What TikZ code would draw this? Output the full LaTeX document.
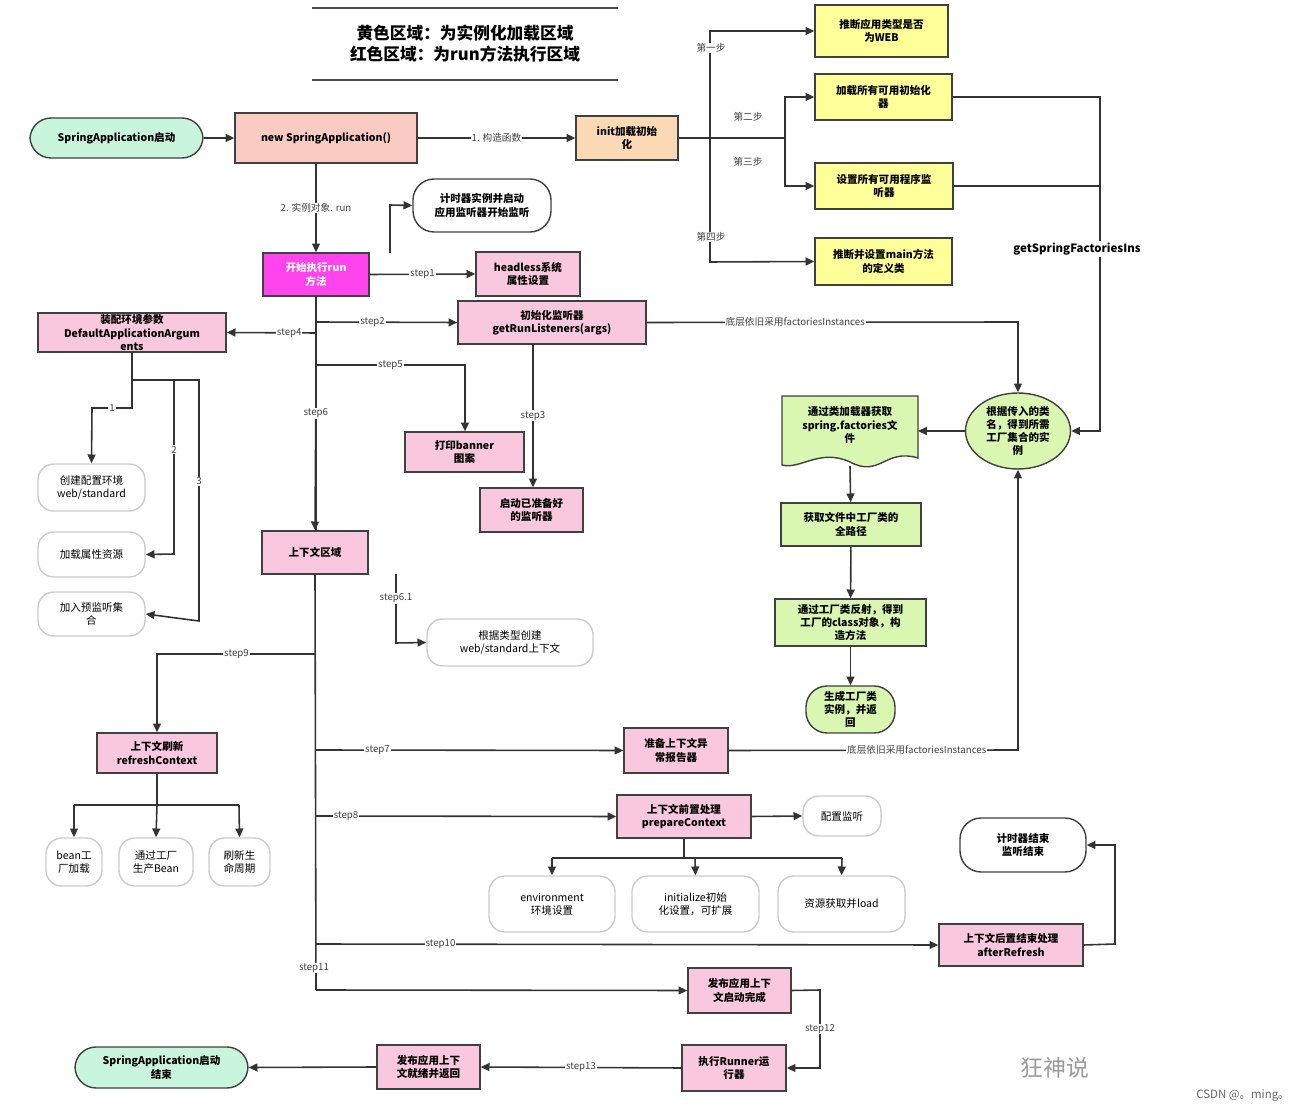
\documentclass[tikz,border=0pt]{standalone}
\usepackage{fontspec}
\setmainfont{Noto Sans CJK SC}
\usetikzlibrary{shapes.geometric,arrows.meta}
\definecolor{pk}{HTML}{F9C8DF}
\definecolor{sal}{HTML}{F9CBC3}
\definecolor{pe}{HTML}{FBD9B5}
\definecolor{yl}{HTML}{FFFF99}
\definecolor{mg}{HTML}{FF44EE}
\definecolor{gr}{HTML}{D9F7B0}
\definecolor{mint}{HTML}{C8F5DC}
\tikzset{
 base/.style={draw=black!75,line width=0.8pt,align=center,font=\fontsize{6}{7.5}\selectfont\bfseries,inner sep=1pt},
 pink/.style={base,fill=pk},
 yel/.style={base,fill=yl},
 grn/.style={base,fill=gr},
 rnd/.style={base,draw=black!20,fill=white,rounded corners=9pt,font=\fontsize{6}{7.5}\selectfont},
 rndb/.style={base,fill=white,rounded corners=12pt},
 arr/.style={draw=black!80,line width=0.9pt,-{Triangle[length=5pt,width=4.5pt]}},
 ln/.style={draw=black!80,line width=0.9pt},
 lb/.style={fill=white,inner sep=0.5pt,font=\fontsize{5.5}{6}\selectfont,text=black!75},
}
\newcommand\bx[7][]{\node[#2,#1,minimum width={(#5-#3)*0.02cm},minimum height={(#6-#4)*0.02cm}] (#7) at ({(#3+#5)/2},{(#4+#6)/2})}
\begin{document}
\begin{tikzpicture}[x=0.02cm,y=-0.02cm]
\useasboundingbox (0,0) rectangle (1313,1114);
% title
\draw[black!70,line width=0.8pt] (312,8)--(618,8) (312,80)--(618,80);
\node[font=\fontsize{9.5}{12}\selectfont\bfseries,align=center] (title) at (465,44) {黄色区域：为实例化加载区域\\红色区域：为run方法执行区域};
% nodes
\bx[fill=mint,rounded corners=12pt]{base}{30}{118}{203}{158}{sa}{SpringApplication启动};
\bx[fill=sal]{base}{235}{113}{417}{163}{nsa}{new SpringApplication()};
\bx[fill=pe]{base}{576}{116}{678}{160}{init}{init加载初始\\化};
\bx{yel}{815}{5}{948}{57}{y1}{推断应用类型是否\\为WEB};
\bx{yel}{815}{74}{952}{120}{y2}{加载所有可用初始化\\器};
\bx{yel}{815}{163}{953}{209}{y3}{设置所有可用程序监\\听器};
\bx{yel}{815}{238}{952}{285}{y4}{推断并设置main方法\\的定义类};
\bx{rndb}{413}{179}{551}{232}{timer}{计时器实例并启动\\应用监听器开始监听};
\bx[fill=mg,text=white]{base}{263}{253}{369}{296}{run}{开始执行run\\方法};
\bx{pink}{476}{252}{580}{296}{head}{headless系统\\属性设置};
\bx{pink}{458}{301}{646}{344}{grl}{初始化监听器\\getRunListeners(args)};
\bx{pink}{38}{313}{226}{352}{dfa}{装配环境参数\\DefaultApplicationArgum\\ents};
\bx{pink}{405}{432}{524}{472}{ban}{打印banner\\图案};
\bx{pink}{480}{488}{583}{532}{lis}{启动已准备好\\的监听器};
\bx{rnd}{38}{464}{145}{511}{c1}{创建配置环境\\web/standard};
\bx{rnd}{38}{532}{145}{577}{c2}{加载属性资源};
\bx{rnd}{38}{592}{145}{636}{c3}{加入预监听集\\合};
\bx{pink}{262}{531}{368}{574}{ctx}{上下文区域};
\bx{rnd}{427}{619}{593}{666}{cw}{根据类型创建\\web/standard上下文};
\bx{pink}{97}{733}{217}{773}{ref}{上下文刷新\\refreshContext};
\bx{rnd}{46}{838}{102}{886}{r1}{bean工\\厂加载};
\bx{rnd}{119}{838}{193}{886}{r2}{通过工厂\\生产Bean};
\bx{rnd}{209}{838}{270}{886}{r3}{刷新生\\命周期};
\bx{pink}{624}{728}{728}{773}{exr}{准备上下文异\\常报告器};
\bx{pink}{617}{795}{751}{838}{pre}{上下文前置处理\\prepareContext};
\bx{rnd}{803}{796}{881}{836}{pl}{配置监听};
\bx{rnd}{489}{876}{615}{932}{p1}{environment\\环境设置};
\bx{rnd}{632}{876}{759}{932}{p2}{initialize初始\\化设置，可扩展};
\bx{rnd}{778}{876}{905}{932}{p3}{资源获取并load};
\bx{rndb}{960}{818}{1086}{872}{tend}{计时器结束\\监听结束};
\bx{pink}{939}{924}{1083}{966}{aft}{上下文后置结束处理\\afterRefresh};
\bx{pink}{688}{968}{791}{1013}{pub}{发布应用上下\\文启动完成};
\bx{pink}{682}{1045}{786}{1091}{runr}{执行Runner运\\行器};
\bx{pink}{377}{1045}{480}{1089}{rdy}{发布应用上下\\文就绪并返回};
\bx[fill=mint,rounded corners=12pt]{base}{75}{1047}{248}{1088}{sae}{SpringApplication启动\\结束};
\node[base,fill=gr,ellipse,minimum width=2.1cm,minimum height=1.52cm] (ell) at (1018,431) {根据传入的类\\名，得到所需\\工厂集合的实\\例};
\draw[base,fill=gr] (782,396)--(918,396)--(918,458) .. controls (885,448) and (880,478) .. (850,462) .. controls (820,448) and (800,470) .. (782,465)--cycle;
\node[align=center,font=\fontsize{6}{7.5}\selectfont\bfseries] (doc) at (850,425) {通过类加载器获取\\spring.factories文\\件};
\coordinate (docb) at (850,466);
\coordinate (docr) at (918,431);
\bx{grn}{781}{503}{921}{546}{g2}{获取文件中工厂类的\\全路径};
\bx{grn}{775}{599}{926}{646}{g3}{通过工厂类反射，得到\\工厂的class对象，构\\造方法};
\bx[rounded corners=12pt]{grn}{806}{686}{895}{733}{g4}{生成工厂类\\实例，并返\\回};
% edges top
\draw[arr] (sa)--(nsa);
\draw[arr] (nsa)--node[lb]{1. 构造函数}(init);
\draw[ln] (init.east)--(785,138);
\draw[arr] (710,138)--(710,31)--(y1.west);
\node[lb] at (711,48){第一步};
\draw[arr] (710,138)--(710,262)--(y4.west);
\node[lb] at (711,237){第四步};
\draw[arr] (785,138)--(785,97)--(y2.west);
\draw[arr] (785,138)--(785,186)--(y3.west);
\node[lb] at (748,117){第二步};
\node[lb] at (748,162){第三步};
\draw[arr] (y2.east)--(1100,97)--(1100,431)--(ell.east);
\draw[ln] (y3.east)--(1100,186);
\node[font=\fontsize{6.5}{8}\selectfont\bfseries,fill=white,inner sep=1pt] at (1077,249){getSpringFactoriesIns};
\draw[arr] (grl.east)--node[lb,pos=0.4]{底层依旧采用factoriesInstances}(1018,322)--(ell.north);
\draw[arr] (ell.west)--(docr);
\draw[arr] (docb)--(g2);
\draw[arr] (g2)--(g3);
\draw[arr] (g3)--(g4);
\draw[arr] (exr.east)--node[lb,pos=0.65]{底层依旧采用factoriesInstances}(1018,750)--(ell.south);
% run area
\draw[arr] (nsa.south-|316,0)--node[lb,pos=0.5]{2. 实例对象. run}(run.north-|316,0);
\draw[arr] (390,253)--(390,205)--(timer.west);
\draw[arr] (run.east)--node[lb,pos=0.5]{step1}(head.west);
\draw[ln] (run.south)--(316,531);
\draw[arr] (316,322)--node[lb,pos=0.4]{step2}(grl.west);
\draw[arr] (316,333)--node[lb,pos=0.3]{step4}(dfa.east);
\draw[arr] (316,365)--node[lb,pos=0.5]{step5}(465,365)--(ban.north-|465,0);
\draw[arr] (316,380)--node[lb,pos=0.22]{step6}(ctx.north);
\draw[arr] (533,344)--node[lb,pos=0.5]{step3}(lis.north-|533,0);
% dfa children
\draw[ln] (dfa.south-|132,0)--(132,380);
\draw[arr] (132,380)--(132,408)--node[lb]{1}(92,408)--(c1.north);
\draw[arr] (132,380)--(174,380)--node[lb,pos=0.4]{2}(174,554)--(c2.east);
\draw[arr] (132,380)--(199,380)--node[lb,pos=0.42]{3}(199,621)--(c3.east);
% context trunk
\draw[ln] (ctx.south)--(316,990);
\draw[arr] (396,574)--node[lb,pos=0.35]{step6.1}(396,643)--(cw.west);
\draw[arr] (316,654)--node[lb]{step9}(157,654)--(ref.north);
\draw[ln] (ref.south)--(157,805);
\draw[ln] (74,805)--(239,805);
\draw[arr] (74,805)--(r1.north);
\draw[arr] (157,805)--(r2.north);
\draw[arr] (239,805)--(r3.north);
\draw[arr] (316,750)--node[lb,pos=0.2]{step7}(exr.west);
\draw[arr] (316,816)--node[lb,pos=0.1]{step8}(pre.west);
\draw[arr] (pre.east)--(pl.west);
\draw[ln] (pre.south)--(684,858);
\draw[ln] (552,858)--(842,858);
\draw[arr] (552,858)--(p1.north);
\draw[arr] (695,858)--(p2.north);
\draw[arr] (842,858)--(p3.north);
\draw[arr] (316,944)--node[lb,pos=0.2]{step10}(aft.west);
\draw[arr] (aft.east)--(1115,944)--(1115,845)--(tend.east);
\node[lb] at (314,968){step11};
\draw[arr] (316,990)--(pub.west);
\draw[arr] (pub.east)--(820,990)--node[lb,pos=0.5]{step12}(820,1068)--(runr.east);
\draw[arr] (runr.west)--node[lb]{step13}(rdy.east);
\draw[arr] (rdy.west)--(sae.east);
% watermarks
\node[text=black!40,font=\fontsize{13}{14}\selectfont] (wm) at (1055,1068){狂神说};
\node[text=black!60,font=\fontsize{6.5}{8}\selectfont] (csdn) at (1243,1096){CSDN @。ming。};
\end{tikzpicture}
\end{document}
